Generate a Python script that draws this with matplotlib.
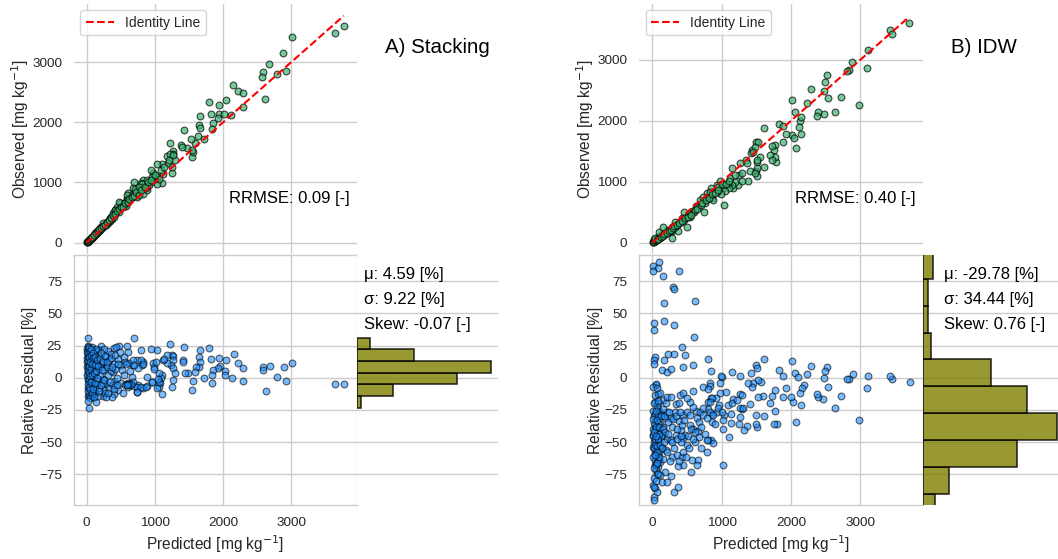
import numpy as np
import matplotlib
matplotlib.use("Agg")
import matplotlib.pyplot as plt

# ---------------- data ----------------
x_ticks = [0, 1000, 2000, 3000]
obs_ticks = [0, 1000, 2000, 3000]
res_ticks = [-75, -50, -25, 0, 25, 50, 75]

# Stacking: (predicted, observed)
stack_obs_pred = [
    (3771, 3592), (3634, 3481), (3010, 3409), (2878, 3154), (2673, 2961), (2585, 2828), (2571, 2745),
    (2790, 2800), (2917, 2856), (2620, 2385), (2151, 2623), (2220, 2524), (2293, 2479), (2293, 2247),
    (2039, 2369), (2122, 2114), (1937, 2291), (1937, 2136), (2010, 2136), (1927, 2064), (1790, 2330),
    (1829, 2136), (1854, 1981), (1839, 1893), (1659, 2103), (1644, 1954), (1659, 1898), (1629, 1776),
    (1585, 1649), (1527, 1716), (1717, 1716), (1424, 1871), (1390, 1621), (1478, 1566), (1537, 1417),
    (1561, 1511), (1220, 1660), (1268, 1527), (1268, 1472), (1171, 1439), (1244, 1162), (1195, 1317),
    (1107, 1306), (1024, 1306), (1112, 1140), (976, 1162), (1024, 1096), (1107, 985), (1024, 974),
    (893, 974), (829, 1040), (698, 1002), (790, 996), (805, 930), (829, 802), (878, 874), (683, 902),
    (722, 819), (610, 819), (595, 736), (488, 664), (576, 642), (439, 587), (415, 542), (341, 404),
    (244, 321), (195, 238), (122, 155), (73, 89), (24, 33),
    (1550, 1536), (1403, 1591), (1222, 1481), (1291, 1370), (1247, 1260), (1086, 1204), (939, 1204),
    (998, 1055), (1061, 1066), (939, 1011), (914, 956), (866, 901), (817, 983), (743, 762), (670, 790),
    (587, 790), (597, 707), (548, 652), (474, 680), (474, 514), (391, 486), (352, 431), (328, 365),
    (215, 265), (156, 199), (108, 127), (59, 72), (10, 17),
    (293, 348), (411, 541), (509, 586), (572, 608), (645, 735), (704, 884), (768, 928), (890, 1039),
    (963, 1094), (1134, 1260), (1208, 1381), (1271, 1464),
    (5, 6), (12, 14), (20, 22), (30, 33), (40, 45), (50, 54), (60, 66), (75, 80), (90, 97), (110, 118),
    (130, 140), (150, 163), (175, 190), (200, 214), (225, 245), (250, 270), (280, 300), (310, 335),
    (340, 368), (370, 395), (400, 430),
    (60, 70), (85, 100), (105, 125), (135, 160), (165, 195), (185, 220), (205, 245), (235, 275),
    (265, 300), (300, 340), (325, 380), (360, 410), (385, 455), (420, 470), (445, 520), (470, 560),
    (500, 600), (530, 590), (560, 660), (600, 680), (625, 720), (660, 760), (700, 770), (730, 850),
    (760, 800), (800, 880), (850, 920), (900, 1000), (950, 1040), (1000, 1130),
]

# Stacking: (predicted, relative residual %)
stack_res_pred = [
    (3643, -4.9), (3775, -4.9), (3012, 11.7), (2890, 8.6), (2924, -2.3), (2797, 0.3), (2689, 9.4),
    (2592, 8.1), (2582, 6.0), (2626, -10.2), (2298, 7.3), (2225, 11.7), (2156, 18.2), (2298, -2.3),
    (2127, -0.5), (2044, 13.8), (2029, 5.5), (2034, 2.1), (1941, 15.4), (1956, 9.1), (1932, 7.3),
    (1858, 6.0), (1843, 2.1), (1834, -3.9), (1829, 14.3), (1795, 22.9), (1721, 0.0), (1663, 21.6),
    (1648, 15.9), (1663, 12.5), (1653, 8.1), (1604, 8.6), (1589, 4.2), (1555, -2.3), (1540, -9.6),
    (1492, 3.9), (1428, 23.7), (1418, 13.8), (1408, 12.5), (1443, 3.4), (1222, 26.0), (1247, 17.4),
    (1271, 16.9), (1262, 13.8), (1232, 9.9), (1271, 7.3), (1296, 3.4), (1271, -1.8), (1247, -7.0),
    (1174, 11.2), (1125, 13.8), (1174, 17.7), (1100, 2.1), (1086, -0.5), (1076, -4.4), (1066, -7.0),
    (1100, -13.0), (1027, -8.3), (1027, 21.6), (939, 22.4), (978, 11.7), (988, 8.6), (954, -3.1),
    (880, 0.3), (890, -6.5), (831, -8.3), (792, 21.6), (831, 12.5), (807, 9.9), (758, 7.8), (733, 13.8),
    (694, 30.7), (685, 9.9), (748, -5.7), (743, -10.9), (660, 0.8),
    (24, 31.2), (39, -23.6), (210, 24.9), (186, 21.5), (396, 22.8), (479, 24.9), (592, 24.9),
    (601, 20.2), (430, 24.1), (308, 20.7), (357, 18.1), (284, 16.2), (333, 13.6), (455, 14.9),
    (553, 16.2), (562, 12.3), (626, 11.8), (675, 13.6), (797, 13.6), (822, 11.0), (699, 9.7),
    (504, 9.7), (406, 11.0), (284, 10.2), (210, 8.4), (161, 7.1), (259, 5.8), (381, 4.5), (112, 3.1),
    (308, 1.8), (235, -0.8), (161, -2.9), (284, -4.7), (406, -2.9), (504, -3.9), (577, -4.7),
    (626, -5.5), (601, -3.9), (699, -6.8), (738, -7.3), (797, -7.3), (870, -7.3), (953, -3.4),
    (455, -9.4), (406, -12.6), (372, -15.2), (259, -9.9), (235, -13.9), (112, -11.3), (88, -13.9),
    (24, -14.4), (54, -12.6), (137, -18.6), (738, -11.3), (1066, 3.9), (1017, 12.3), (1139, 14.9),
    (993, 7.1), (1066, -3.4), (1041, -0.8),
    (10, 22), (20, 18), (30, 12), (5, 8), (15, 5), (25, 0), (35, -3), (45, 10), (50, 15), (60, 20),
    (70, 14), (80, 6), (55, 2), (12, -8), (28, -12), (40, -14), (65, -10), (90, -6), (100, 12),
    (110, 18), (75, 24), (18, 25), (8, 15), (38, 20), (48, -5), (58, -1), (22, 3), (32, 7), (42, 11),
    (95, 9), (85, -13), (105, -3), (115, 4), (125, -8), (130, 21), (15, -2), (62, -6), (78, -2),
    (88, 17), (120, -12), (140, 10), (150, -5), (170, 18), (180, -8), (200, 2), (220, 12), (240, -4),
    (260, 22), (270, -12), (300, 8), (320, -8), (350, 5), (380, -6), (420, 7), (450, 0), (520, 6),
    (560, -6), (640, 5), (680, -3), (140, 22), (160, -14), (52, -16), (18, -18),
    (5, 20), (8, 12), (10, 2), (12, 24), (14, -5), (16, 9), (18, 16), (20, -10), (22, 13), (24, 6),
    (26, 19), (28, -1), (30, 23), (33, 4), (36, 16), (38, -7), (40, 9), (44, 21), (46, 1), (50, -9),
    (52, 12), (56, 18), (60, -3), (64, 7), (68, 22), (72, -12), (76, 11), (82, 2), (86, 19), (92, -9),
    (98, 15), (102, 4), (108, -15), (116, 10), (122, 16), (128, -4), (135, 5), (145, 14), (155, 0),
    (165, 9), (175, -10), (190, 15), (205, -6), (215, 19), (230, 6), (245, 13), (255, -2), (275, 17),
    (290, -15), (305, 12), (315, -12), (335, -3), (360, 15), (375, 8), (395, -9), (410, 18),
    (440, -6), (465, 11), (490, 20), (530, -12), (545, 2), (580, 11), (610, -7), (615, -5),
    (630, -6), (650, -5), (600, -5), (590, -6),
]

# IDW: (predicted, observed)
idw_obs_pred = [
    (3707, 3607), (3428, 3497), (3462, 3421), (3115, 3169), (3096, 2869), (2885, 2967), (2841, 2831),
    (2808, 2814), (2524, 2754), (2490, 2639), (2481, 2492), (2538, 2377), (2284, 2519), (2226, 2295),
    (2721, 2393), (2635, 2148), (2981, 2257), (2471, 2120), (2394, 2148), (2370, 2077), (2019, 2339),
    (2058, 2148), (2130, 2000), (2144, 2066), (2120, 1902), (2144, 1781), (2010, 1765), (2043, 1721),
    (2072, 1557), (1928, 1792), (1880, 1656), (1827, 1956), (1889, 1913), (1611, 1885), (1769, 1601),
    (1760, 1519), (1779, 1328), (1764, 1410), (1697, 1432), (1731, 1355), (1553, 1410), (1611, 1246),
    (1495, 1656), (1529, 1656), (1442, 1530), (1423, 1475), (1346, 1355), (1370, 1301), (1514, 1328),
    (1490, 1180), (1505, 1098), (1409, 1180), (1144, 1219), (1264, 1301), (1255, 1109), (1288, 1137),
    (1375, 1011), (1231, 945), (1168, 902), (1034, 617), (976, 1011), (928, 945), (841, 902),
    (856, 727), (784, 809), (750, 508), (457, 508), (543, 426), (279, 191), (279, 71),
    (1484, 1574), (1460, 1492), (1508, 1355), (1508, 1219), (1484, 1137), (1725, 1585), (1195, 1000),
    (1292, 1016), (1147, 945), (1108, 891), (1089, 973), (1027, 891), (1051, 852), (988, 798),
    (930, 836), (858, 781), (810, 727), (882, 699), (761, 645), (689, 699), (631, 601), (593, 525),
    (424, 399), (328, 344), (280, 262), (207, 208), (135, 142), (87, 87), (39, 33), (496, 251),
    (376, 197), (665, 579), (737, 743), (834, 836), (945, 918), (1123, 1055), (1195, 1109),
    (5, 4), (15, 12), (25, 20), (40, 30), (55, 42), (70, 55), (90, 70), (110, 85), (130, 100),
    (160, 125), (190, 150), (220, 175), (250, 200), (290, 230), (330, 265), (370, 300), (410, 340),
    (450, 380), (500, 420), (550, 470), (600, 510), (30, 56), (45, 80), (100, 170), (160, 250),
    (65, 50), (80, 65), (120, 95), (150, 115), (175, 145), (210, 160), (240, 190), (265, 215),
    (300, 245), (320, 280), (350, 290), (390, 330), (430, 360), (470, 400), (520, 430), (560, 460),
    (620, 540), (650, 560), (700, 620), (720, 660), (780, 700), (820, 740), (860, 800), (900, 820),
    (950, 870), (1000, 960), (1060, 960), (1100, 1020),
]

# IDW: (predicted, relative residual %)
idw_res_pred = [
    (3716, -3.6), (3462, -1.3), (3428, 1.3), (3115, 1.3), (3101, -8.1), (2981, -32.8), (2889, 2.6),
    (2841, -0.8), (2813, -0.8), (2721, -14.3), (2635, -23.2), (2524, 8.1), (2490, 5.5), (2538, -7.0),
    (2476, 0.0), (2466, -16.9), (2394, -14.8), (2380, -12.8), (2284, 9.1), (2226, 2.9), (2188, -5.7),
    (2154, -8.3), (2130, -11.7), (2144, -21.4), (2072, -34.1), (2058, 3.9), (2096, 0.3), (2019, 13.0),
    (2034, -18.8), (1995, -14.8), (1923, -8.3), (1889, -14.8), (1889, 1.3), (1827, 6.0), (1769, -9.6),
    (1769, -25.8), (1793, -35.7), (1760, -35.7), (1697, -19.5), (1731, -14.3), (1611, 14.3),
    (1601, -14.3), (1615, -29.7), (1529, -14.8), (1562, -3.1), (1519, -1.8), (1505, -38.3),
    (1490, -35.7), (1490, -29.2), (1495, 9.9), (1514, 7.3), (1457, -3.9), (1442, -7.0), (1423, 3.4),
    (1409, -20.6), (1385, -4.4), (1370, -37.2), (1327, -40.9), (1288, -24.0), (1264, -23.4),
    (1264, 1.3), (1264, -12.8), (1264, -30.5), (1255, -35.7), (1144, 4.7), (1168, -16.9),
    (1134, -27.9), (1134, -35.2), (1111, -46.1), (1024, -68.2), (1038, -29.2), (1024, -40.1),
    (1000, 0.3), (990, 1.3), (976, -4.4), (966, -21.4), (976, -12.2), (913, -16.1), (841, 5.5),
    (808, 14.3), (832, -3.9), (832, -6.5), (841, -16.1), (856, -27.9), (865, -34.4), (841, -48.7),
    (880, -50.8), (808, -48.2), (784, -57.8), (798, -24.7), (808, -18.8),
    (101, 90.4), (14, 87.0), (87, 85.2), (14, 83.4), (385, 83.4), (159, 79.2), (303, 70.9),
    (317, 68.8), (168, 58.4), (615, 60.0), (29, 42.9), (168, 44.2), (29, 37.1), (313, 41.0),
    (606, 31.9), (433, 23.6), (471, 17.7), (38, 16.4), (24, 13.8), (24, 10.4), (231, 18.4),
    (313, 18.4), (168, 13.8), (135, 6.0), (207, 4.7), (269, 6.5), (447, 8.1), (591, 9.9),
    (48, -6.0), (60, -5.0), (38, -13.5), (87, -13.0), (159, -17.4), (207, -14.8), (269, -14.8),
    (341, -20.8), (399, -13.5), (447, -12.2), (591, -10.1), (726, -7.0), (798, -8.8), (1058, -10.9),
    (856, -15.6), (832, -18.7), (928, -26.5), (14, -26.0), (87, -25.2), (135, -29.1), (207, -26.5),
    (269, -31.2), (327, -26.5), (389, -33.8), (447, -29.1), (495, -26.5), (543, -36.4), (591, -39.5),
    (630, -26.0), (663, -41.6), (677, -46.0), (615, -49.9), (702, -54.5), (784, -48.6), (14, -44.7),
    (38, -48.6), (87, -46.0), (149, -44.2), (207, -47.3), (269, -48.6), (341, -44.7), (409, -40.8),
    (471, -44.2), (495, -52.5), (14, -53.8), (63, -57.7), (135, -54.5), (197, -56.4), (279, -61.6),
    (351, -60.3), (423, -61.6), (447, -68.1), (370, -68.6), (567, -64.2), (663, -64.2), (558, -73.2),
    (649, -68.1), (38, -64.2), (87, -69.4), (63, -74.5), (183, -73.2), (269, -76.4), (135, -81.0),
    (207, -81.0), (14, -83.1), (38, -85.7), (63, -88.8), (24, -92.7), (24, -95.3), (317, -88.8),
    (375, -84.9), (14, -7.0), (72, -8.3), (38, -18.7), (87, -20.0), (111, -26.5), (159, -24.4),
    (183, -31.7), (231, -34.3), (279, -38.2), (351, -39.5), (423, -36.9), (447, -46.8), (409, -49.9),
    (38, -35.6), (14, -39.5), (87, -40.8), (111, -35.6), (159, -38.2), (38, -57.7), (87, -60.3),
    (38, -68.1), (111, -65.5), (53, -72.0), (159, -62.9), (687, -26.5), (726, -23.4), (639, -31.7),
    (677, -34.3), (543, -29.1), (591, -22.6), (543, -18.7), (495, -16.1), (389, -20.0), (736, -29.1),
    (784, -31.7), (832, -26.5), (880, -28.6), (952, -23.9), (1000, -26.5), (904, -35.6), (1024, -33.0),
    (1096, -21.3), (1144, -20.0), (1216, -17.4), (1288, -13.5), (1312, -23.9),
    (20, -30), (50, -32), (70, -42), (30, -50), (60, -52), (45, -60), (75, -64), (25, -78), (55, -80),
    (90, -50), (100, -28), (120, -45), (40, -40), (65, -22), (80, -35), (30, -20), (100, -58),
    (15, -62), (50, -68), (110, -76),
    (10, -45), (20, -55), (30, -35), (35, -28), (45, -48), (55, -38), (65, -58), (75, -48), (85, -30),
    (95, -44), (18, -70), (28, -85), (42, -52), (58, -26), (68, -66), (78, -18), (90, -62), (12, -32),
    (22, -42), (32, -60), (48, -45), (62, -33), (72, -53), (82, -75), (96, -38), (105, -12),
    (115, -52), (125, -30), (140, -55), (150, -40), (165, -30), (175, -50), (190, -42), (200, -20),
    (215, -58), (230, -44), (245, -27), (255, -65), (290, -50), (300, -32), (320, -55), (340, -30),
    (360, -48), (380, -65), (400, -27), (420, -45), (440, -58), (460, -33), (480, -62), (510, -45),
    (530, -55), (560, -40), (580, -48), (620, -42), (700, -38), (760, -44),
]

# residual histograms (bin edges in %, counts)
stack_hist_edges = [-23.4, -14.3, -5.2, 3.9, 13.0, 22.1, 31.2]
stack_hist_counts = [5, 44, 120, 161, 68, 16]
idw_hist_edges = [-111.2, -90.3, -69.4, -48.5, -27.6, -6.7, 14.2, 35.1, 56.0, 76.9, 97.8]
idw_hist_counts = [11, 23, 82, 117, 91, 59, 7, 5, 5, 9]

identity_stack = [0, 3770]
identity_idw = [0, 3710]

titles = ["A) Stacking", "B) IDW"]
rrmse_texts = ["RRMSE: 0.09 [-]", "RRMSE: 0.40 [-]"]
stack_stats = ["μ: 4.59 [%]", "σ: 9.22 [%]", "Skew: -0.07 [-]"]
idw_stats = ["μ: -29.78 [%]", "σ: 34.44 [%]", "Skew: 0.76 [-]"]

# ---------------- style ----------------
plt.rcParams.update({
    'font.family': ['Liberation Sans', 'DejaVu Sans'],
    'text.color': '.15', 'axes.labelcolor': '.15',
    'xtick.color': '.15', 'ytick.color': '.15',
    'axes.edgecolor': '.8', 'grid.color': '.8', 'grid.linewidth': 1.0,
    'axes.axisbelow': True, 'axes.linewidth': 1.0,
})

W, H = 1058, 559
fig = plt.figure(figsize=(W / 100, H / 100), dpi=100)


def add_ax(x0, y0, x1, y1):
    return fig.add_axes([x0 / W, 1 - y1 / H, (x1 - x0) / W, (y1 - y0) / H])


TICK_FS = 9.7
LABEL_FS = 11.2
res_ylim = (-99.0, 95.5)


def draw_panel(x0, x1, obs_pts, res_pts, ident, xlim, ylim, counts, edges,
               title, rrmse, stats, stats_x):
    ax_t = add_ax(x0, 4, x1, 254)
    ax_r = add_ax(x0, 255, x1, 505)
    ax_h = add_ax(x1, 255, x1 + 141.3, 505)

    # top: observed vs predicted
    px, py = zip(*obs_pts)
    ax_t.scatter(px, py, s=24, c='#3CB371', alpha=0.7, edgecolors='k', linewidths=0.8, zorder=3)
    ax_t.plot(ident, ident, 'r--', lw=1.5, label='Identity Line', zorder=4)
    ax_t.set_xlim(xlim)
    ax_t.set_ylim(ylim)
    ax_t.set_xticks(x_ticks)
    ax_t.set_yticks(obs_ticks)
    ax_t.grid(True)
    ax_t.tick_params(length=0, labelsize=TICK_FS, labelbottom=False, pad=8.6)
    for s in ax_t.spines.values():
        s.set_visible(False)
    ax_t.set_ylabel(r'Observed [mg kg$^{-1}$]', fontsize=LABEL_FS, labelpad=0.8)
    leg = ax_t.legend(loc='upper left', fontsize=10, frameon=True, fancybox=True,
                      borderaxespad=0.45)
    leg.get_frame().set_edgecolor('.8')
    ax_t.text(1 - 7 / (x1 - x0), 0.222, rrmse, transform=ax_t.transAxes,
              ha='right', va='center', fontsize=12, color='black')

    # bottom: residuals
    rx, ry = zip(*res_pts)
    ax_r.scatter(rx, ry, s=24, c='#1E90FF', alpha=0.6, edgecolors='k', linewidths=0.8, zorder=3)
    ax_r.set_xlim(xlim)
    ax_r.set_ylim(res_ylim)
    ax_r.set_xticks(x_ticks)
    ax_r.set_yticks(res_ticks)
    ax_r.grid(True)
    ax_r.tick_params(length=0, labelsize=TICK_FS)
    ax_r.tick_params(axis='y', pad=8.6)
    ax_r.tick_params(axis='x', pad=9.0)
    ax_r.set_xlabel(r'Predicted [mg kg$^{-1}$]', fontsize=LABEL_FS, labelpad=3)
    ax_r.set_ylabel('Relative Residual [%]', fontsize=LABEL_FS, labelpad=1.2)

    # histogram of residuals
    ax_h.barh(edges[:-1], counts, height=np.diff(edges), align='edge',
              color='olive', alpha=0.8, edgecolor='black', linewidth=1.2, zorder=3)
    ax_h.set_ylim(res_ylim)
    ax_h.set_xlim(0, max(counts) * 1.05)
    ax_h.set_xticks([])
    ax_h.set_yticks(res_ticks)
    ax_h.grid(True, axis='y')
    ax_h.tick_params(length=0, labelleft=False)
    for s in ax_h.spines.values():
        s.set_visible(False)

    # texts
    fig.text((x1 + 28.5) / W, 1 - 47.5 / H, title, ha='left', va='center',
             fontsize=14.8, color='black')
    for i, t in enumerate(stats):
        fig.text(stats_x / W, 1 - (275 + 24.5 * i) / H, t, ha='left', va='center',
                 fontsize=12, color='black')


draw_panel(74.0, 356.7, stack_obs_pred, stack_res_pred, identity_stack,
           (-186, 3959), (-188, 3965), stack_hist_counts, stack_hist_edges,
           titles[0], rrmse_texts[0], stack_stats, 364.3)
draw_panel(639.3, 922.7, idw_obs_pred, idw_res_pred, identity_idw,
           (-188, 3902), (-185, 3918), idw_hist_counts, idw_hist_edges,
           titles[1], rrmse_texts[1], idw_stats, 944.3)

fig.savefig('out.png', dpi=100)
